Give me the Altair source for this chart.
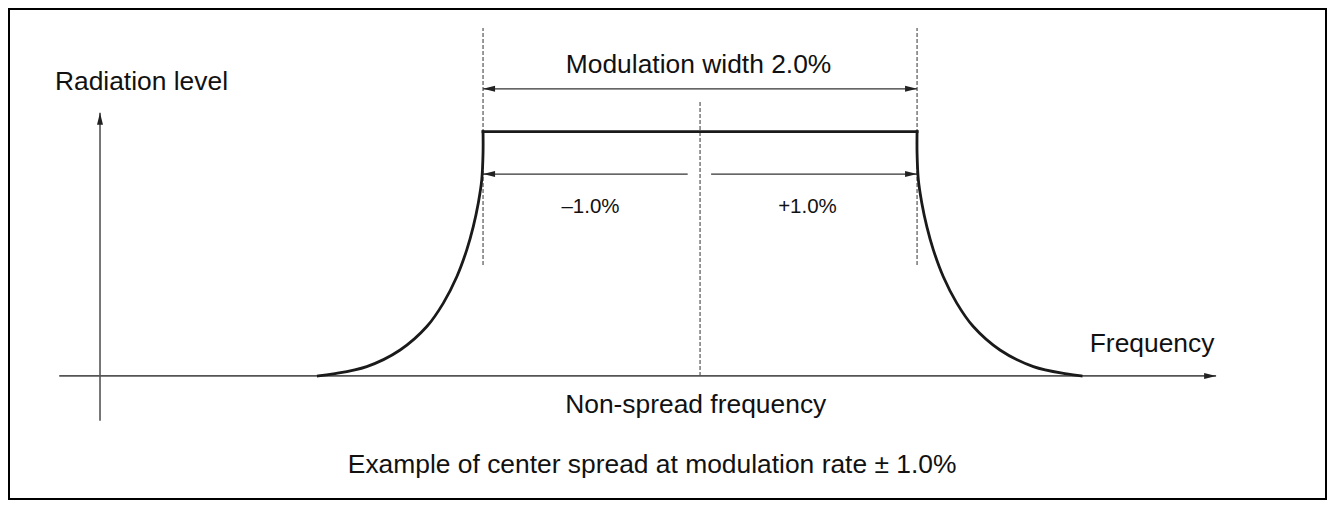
import altair as alt
import pandas as pd

# ---- data (x in % of frequency around centre, y in relative radiation level) ----
curve_x = [-1.759, -1.690, -1.536, -1.382, -1.259, -1.183, -1.121, -1.075, -1.045, -1.022, -1.006, -1.0, -1.0,
           -1.0, 1.0,
           1.0, 1.0, 1.006, 1.022, 1.045, 1.075, 1.121, 1.183, 1.259, 1.382, 1.536, 1.690, 1.756]
curve_y = [0.0, 0.008, 0.038, 0.106, 0.202, 0.298, 0.406, 0.516, 0.611, 0.707, 0.802, 0.912, 1.0,
           1.0, 1.0,
           1.0, 0.912, 0.802, 0.707, 0.611, 0.516, 0.406, 0.298, 0.202, 0.106, 0.038, 0.008, 0.0]
curve_seg = ["left"] * 13 + ["top"] * 2 + ["right"] * 13

# axes (start/end)
axis_x = [-2.953, -2.765]
axis_x2 = [2.378, -2.765]
axis_y = [0.0, -0.184]
axis_y2 = [0.0, 1.077]

# dashed guide lines
guide_x = [-1.0, 0.0, 1.0]
guide_y = [0.454, 0.0, 0.454]
guide_y2 = [1.424, 1.126, 1.424]

# dimension lines
dim_x = [-1.0, -1.0, 0.051]
dim_x2 = [1.0, -0.057, 1.0]
dim_y = [1.175, 0.826, 0.826]

# arrow heads
head_x = [2.378, -2.765, -1.0, 1.0, -1.0, 1.0]
head_y = [0.0, 1.077, 1.175, 1.175, 0.826, 0.826]
head_dir = ["right", "up", "left", "right", "left", "right"]

# labels
labels = ["Radiation level", "Modulation width 2.0%", "\u20131.0%", "+1.0%", "Frequency",
          "Non-spread frequency", "Example of center spread at modulation rate \u00b1 1.0%"]
label_x = [-2.574, -0.007, -0.505, 0.495, 2.083, -0.02, -0.221]
label_y = [1.171, 1.239, 0.666, 0.666, 0.096, -0.153, -0.398]
label_size = [26.4, 26.4, 20.5, 20.5, 26.4, 26.4, 26.4]

W, H = 1319, 492
xs = alt.Scale(domain=[-3.189, 2.889], nice=False, zero=False)
ys = alt.Scale(domain=[-0.508, 1.506], nice=False, zero=False)

def X(f="x"):
    return alt.X(f"{f}:Q", scale=xs, axis=None)

def Y(f="y"):
    return alt.Y(f"{f}:Q", scale=ys, axis=None)

curve_df = pd.DataFrame({"x": curve_x, "y": curve_y, "seg": curve_seg, "o": list(range(len(curve_x)))})
axis_df = pd.DataFrame({"x": axis_x, "x2": axis_x2, "y": axis_y, "y2": axis_y2})
guide_df = pd.DataFrame({"x": guide_x, "y": guide_y, "y2": guide_y2})
dim_df = pd.DataFrame({"x": dim_x, "x2": dim_x2, "y": dim_y})
head_df = pd.DataFrame({"x": head_x, "y": head_y, "dir": head_dir})
text_df = pd.DataFrame({"label": labels, "x": label_x, "y": label_y, "size": label_size})

axes = alt.Chart(axis_df).mark_rule(color="#555555", strokeWidth=1.6).encode(
    x=X(), x2="x2:Q", y=Y(), y2="y2:Q")

guides = alt.Chart(guide_df).mark_rule(color="#555555", strokeWidth=1.2, strokeDash=[4, 2]).encode(
    x=X(), y=Y(), y2="y2:Q")

dims = alt.Chart(dim_df).mark_rule(color="#333333", strokeWidth=1.3).encode(
    x=X(), x2="x2:Q", y=Y())

heads = alt.Chart(head_df).mark_point(filled=True, opacity=1, size=36, color="#222222", strokeWidth=0).encode(
    x=X(), y=Y(),
    shape=alt.Shape("dir:N", legend=None, scale=alt.Scale(
        domain=["right", "left", "up"],
        range=["M0,0L-4,-1L-4,1Z", "M0,0L4,-1L4,1Z", "M0,0L-1,4L1,4Z"])))

curve = alt.Chart(curve_df).mark_line(color="#1a1a1a", strokeWidth=2.8, interpolate="catmull-rom",
                                      strokeCap="square").encode(
    x=X(), y=Y(), detail="seg:N", order="o:Q")

texts = alt.Chart(text_df).mark_text(font="Liberation Sans", color="#111111", baseline="alphabetic",
                                     align="center").encode(
    x=X(), y=Y(), text="label:N", size=alt.Size("size:Q", scale=None, legend=None))

chart = alt.layer(axes, guides, dims, curve, heads, texts).properties(
    width=W, height=H, padding=0
).configure_view(stroke="black", strokeWidth=4)

chart.save("out.html", embed_options={"renderer": "svg", "actions": False})
